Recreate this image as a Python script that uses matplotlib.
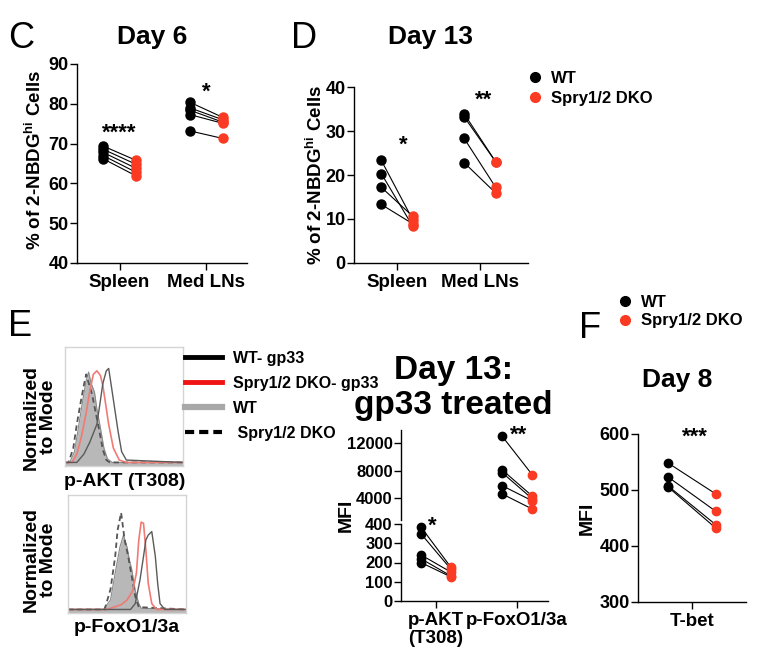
import numpy as np
import matplotlib
matplotlib.use('Agg')
import matplotlib.pyplot as plt
from matplotlib.lines import Line2D

plt.rcParams['font.family'] = ['Liberation Sans', 'DejaVu Sans']
plt.rcParams['font.weight'] = 'bold'
plt.rcParams['axes.labelweight'] = 'bold'
plt.rcParams['mathtext.fontset'] = 'custom'
plt.rcParams['mathtext.rm'] = 'Liberation Sans:bold'
plt.rcParams['mathtext.bf'] = 'Liberation Sans:bold'
plt.rcParams['mathtext.default'] = 'bf'
plt.rcParams['axes.linewidth'] = 1.0

RED = '#fa3a22'

# ---- C: Day 6, % 2-NBDG hi
organs = ['Spleen', 'Med LNs']
c_spleen_wt = [69.4, 68.6, 67.8, 67.0, 66.2]
c_spleen_ko = [65.8, 64.8, 63.8, 62.8, 61.9]
c_lns_wt = [80.4, 79.0, 78.4, 77.3, 73.2]
c_lns_ko = [76.6, 76.0, 75.4, 75.1, 71.3]
c_stars = ['****', '*']

# ---- D: Day 13
d_spleen_wt = [23.3, 20.3, 17.2, 13.3]
d_spleen_ko = [9.8, 8.3, 10.6, 8.9]
d_lns_wt = [33.9, 33.2, 28.3, 22.8]
d_lns_ko = [23.0, 23.0, 17.2, 15.9]
d_stars = ['*', '**']

# ---- E: MFI, gp33 treated
mfi_labels = ['p-AKT\n(T308)', 'p-FoxO1/3a']
akt_wt = [385, 350, 240, 220, 200]
akt_ko = [175, 165, 150, 130, 125]
foxo_wt = [13000, 8100, 7700, 5800, 4600]
foxo_ko = [7400, 4300, 3900, 3600, 2400]
mfi_stars = ['*', '**']

# ---- F: Day 8 T-bet
tbet_wt = [548, 523, 507, 505]
tbet_ko = [493, 462, 438, 432]

# ---- E histograms (x: channel, y: % of mode)
akt_fill_x = [0, 4, 8, 11, 15, 18, 20, 22, 25, 27, 30, 33, 36, 40, 100]
akt_fill_y = [3, 3, 12, 30, 55, 72, 79, 70, 62, 48, 32, 15, 6, 3, 3]
akt_dash_x = [0, 3, 7, 10, 13, 16, 18, 20, 23, 26, 29, 32, 35, 38, 100]
akt_dash_y = [3, 3, 15, 35, 52, 68, 77, 70, 60, 45, 30, 14, 5, 3, 3]
akt_red_x = [0, 6, 10, 14, 18, 21, 24, 27, 30, 32, 34, 37, 41, 46, 52, 100]
akt_red_y = [3, 3, 10, 25, 45, 63, 77, 80, 76, 68, 55, 35, 15, 5, 3, 3]
akt_blk_x = [0, 10, 16, 21, 27, 30, 32, 35, 37, 39, 42, 45, 48, 52, 100]
akt_blk_y = [3, 3, 10, 20, 35, 55, 69, 80, 82, 69, 49, 29, 12, 5, 3]

foxo_fill_x = [0, 30, 36, 40, 44, 47, 50, 52, 54, 57, 60, 62, 100]
foxo_fill_y = [3, 3, 11, 34, 56, 66, 56, 45, 37, 19, 8, 4, 3]
foxo_dash_x = [0, 31, 36, 40, 42, 45, 48, 51, 54, 57, 60, 100]
foxo_dash_y = [3, 3, 20, 48, 70, 85, 62, 48, 31, 14, 5, 3]
foxo_red_x = [0, 33, 45, 50, 55, 58, 60, 62, 64, 66, 68, 71, 75, 100]
foxo_red_y = [3, 3, 7, 11, 19, 34, 62, 77, 76, 53, 25, 8, 3, 3]
foxo_blk_x = [0, 53, 57, 61, 64, 66, 68, 71, 74, 76, 78, 82, 100]
foxo_blk_y = [3, 3, 8, 28, 48, 62, 66, 69, 48, 25, 8, 3, 3]

W, H = 761, 663
fig = plt.figure(figsize=(W / 100, H / 100), dpi=100)


def box(l, t, r, b):
    return fig.add_axes([l / W, 1 - b / H, (r - l) / W, (b - t) / H])


def ftext(x, y, s, **kw):
    fig.text(x / W, 1 - y / H, s, **kw)


def style(ax, ysize=13, xsize=13.5):
    for s in ['top', 'right']:
        ax.spines[s].set_visible(False)
    ax.tick_params(axis='y', direction='out', length=5, width=1, labelsize=ysize, pad=1)
    ax.tick_params(axis='x', direction='out', length=5, width=1, labelsize=xsize, pad=3)


def bold_ticks(ax):
    for t in ax.get_xticklabels() + ax.get_yticklabels():
        t.set_fontweight('bold')


def paired(ax, xc, wt, ko, off, ms=6.5):
    for a, b in zip(wt, ko):
        ax.plot([xc - off, xc + off], [a, b], color='k', lw=0.8, zorder=1, clip_on=False)
    ax.plot([xc - off] * len(wt), wt, 'o', color='k', ms=ms, zorder=3, clip_on=False)
    ax.plot([xc + off] * len(ko), ko, 'o', color=RED, ms=ms, zorder=3, clip_on=False)


# ================= C
axc = box(77, 64, 247, 263)
style(axc)
paired(axc, 0, c_spleen_wt, c_spleen_ko, 0.19)
paired(axc, 1, c_lns_wt, c_lns_ko, 0.19)
axc.set_ylim(40, 90)
axc.set_yticks([40, 50, 60, 70, 80, 90])
axc.set_xlim(-0.49, 1.47)
axc.set_xticks([0, 1])
axc.set_xticklabels(organs)
bold_ticks(axc)
axc.set_ylabel(r'% of 2-NBDG$^{\mathbf{hi}}$ Cells', fontsize=13.5)
axc.yaxis.set_label_coords(-0.19, 0.52)
axc.text(0, 71.2, c_stars[0], ha='center', fontsize=16)
axc.text(1, 81.5, c_stars[1], ha='center', fontsize=16)
ftext(152, 37, 'Day 6', ha='center', va='center', fontsize=19)
ftext(21, 39, 'C', ha='center', va='center', fontsize=26, fontweight='normal')

# ================= D
axd = box(354, 87, 528, 263)
style(axd)
paired(axd, 0, d_spleen_wt, d_spleen_ko, 0.19)
paired(axd, 1, d_lns_wt, d_lns_ko, 0.19)
axd.set_ylim(0, 40)
axd.set_yticks([0, 10, 20, 30, 40])
axd.set_xlim(-0.52, 1.58)
axd.set_xticks([0, 1])
axd.set_xticklabels(organs)
bold_ticks(axd)
axd.set_ylabel(r'% of 2-NBDG$^{\mathbf{hi}}$ Cells', fontsize=13.5)
axd.yaxis.set_label_coords(-0.16, 0.5)
axd.text(0.07, 25.6, d_stars[0], ha='center', fontsize=16)
axd.text(1.04, 35.8, d_stars[1], ha='center', fontsize=16)
ftext(431, 37, 'Day 13', ha='center', va='center', fontsize=19)
ftext(304, 39, 'D', ha='center', va='center', fontsize=26, fontweight='normal')

h_wt = Line2D([], [], marker='o', ls='none', color='k', ms=7)
h_ko = Line2D([], [], marker='o', ls='none', color=RED, ms=7)
fig.legend([h_wt, h_ko], ['WT', 'Spry1/2 DKO'], loc='upper left',
           bbox_to_anchor=(527 / W, 1 - 71 / H), frameon=False,
           prop={'weight': 'bold', 'size': 12}, handlelength=1,
           handletextpad=0.45, labelspacing=0.3, borderpad=0, borderaxespad=0)


# ================= E histograms
def hist_panel(ax, fx, fy, dx, dy, rx, ry, kx, ky):
    ax.fill_between(fx, fy, 0, color='#b8b8b8', lw=0)
    ax.plot(fx, fy, color='#8a8a8a', lw=0.8)
    ax.plot(dx, dy, color='#555555', lw=1.3, ls=(0, (3, 2)))
    ax.plot(rx, ry, color='#f07a74', lw=1.2)
    ax.plot(kx, ky, color='#5a5a5a', lw=1.0)
    ax.set_xlim(0, 100)
    ax.set_ylim(0, 100)
    ax.set_xticks([])
    ax.set_yticks([])
    for s in ax.spines.values():
        s.set_color('#d4d4d4')
        s.set_linewidth(1.0)


axh1 = box(65, 347, 183, 466)
hist_panel(axh1, akt_fill_x, akt_fill_y, akt_dash_x, akt_dash_y,
           akt_red_x, akt_red_y, akt_blk_x, akt_blk_y)
axh2 = box(68, 495, 186, 613)
hist_panel(axh2, foxo_fill_x, foxo_fill_y, foxo_dash_x, foxo_dash_y,
           foxo_red_x, foxo_red_y, foxo_blk_x, foxo_blk_y)
for yc in [417, 560]:
    ftext(40, yc, 'Normalized\nto Mode', ha='center', va='center', rotation=90,
          fontsize=14, linespacing=1.05)
ftext(125, 481, 'p-AKT (T308)', ha='center', va='center', fontsize=14)
ftext(127, 628, 'p-FoxO1/3a', ha='center', va='center', fontsize=14)
ftext(20, 327, 'E', ha='center', va='center', fontsize=26, fontweight='normal')

e_handles = [Line2D([], [], color='k', lw=3.5),
             Line2D([], [], color='#f01414', lw=3.5),
             Line2D([], [], color='#a8a8a8', lw=4.5),
             Line2D([], [], color='k', lw=3, ls=(0, (2.2, 1.2)))]
fig.legend(e_handles, ['WT- gp33', 'Spry1/2 DKO- gp33', 'WT', ' Spry1/2 DKO'],
           loc='upper left', bbox_to_anchor=(185 / W, 1 - 351 / H), frameon=False,
           prop={'weight': 'bold', 'size': 11.5}, handlelength=2.3,
           handletextpad=0.7, labelspacing=0.62, borderpad=0, borderaxespad=0)

ftext(453, 370, 'Day 13:', ha='center', va='center', fontsize=24)
ftext(453, 405, 'gp33 treated', ha='center', va='center', fontsize=24)

# ================= E MFI (broken axis)
axu = box(401, 430, 548, 520)
axl = box(401, 524, 548, 601)
for ax in [axu, axl]:
    style(ax, ysize=12, xsize=13.5)
    ax.set_xlim(-0.43, 1.38)
axu.spines['bottom'].set_visible(False)
axu.set_xticks([])
axu.set_ylim(800, 13900)
axu.set_yticks([4000, 8000, 12000])
axl.set_ylim(0, 400)
axl.set_yticks([0, 100, 200, 300, 400])
axl.set_xticks([0, 1])
axl.set_xticklabels(mfi_labels, linespacing=1.1)
bold_ticks(axu)
bold_ticks(axl)
paired(axl, 0, akt_wt, akt_ko, 0.185, ms=6)
paired(axu, 1, foxo_wt, foxo_ko, 0.185, ms=6)
axl.text(-0.04, 360, mfi_stars[0], ha='center', fontsize=16)
axu.text(1.02, 12300, mfi_stars[1], ha='center', fontsize=16)
ftext(346, 515, 'MFI', ha='center', va='center', rotation=90, fontsize=14)

# ================= F
axf = box(638, 434, 746, 602)
style(axf, ysize=13, xsize=13.5)
paired(axf, 0, tbet_wt, tbet_ko, 0.44, ms=6)
axf.set_xlim(-1, 1)
axf.set_xticks([0])
axf.set_xticklabels(['T-bet'])
axf.set_ylim(300, 600)
axf.set_yticks([300, 400, 500, 600])
bold_ticks(axf)
axf.set_ylabel('MFI', fontsize=14)
axf.yaxis.set_label_coords(-0.39, 0.5)
axf.text(0.06, 585, '***', ha='center', fontsize=16)
ftext(677, 380, 'Day 8', ha='center', va='center', fontsize=19)
ftext(590, 328, 'F', ha='center', va='center', fontsize=26, fontweight='normal')

fig.legend([h_wt, h_ko], ['WT', 'Spry1/2 DKO'], loc='upper left',
           bbox_to_anchor=(617 / W, 1 - 295 / H), frameon=False,
           prop={'weight': 'bold', 'size': 12}, handlelength=1,
           handletextpad=0.45, labelspacing=0.2, borderpad=0, borderaxespad=0)

fig.savefig('out.png', dpi=100)
